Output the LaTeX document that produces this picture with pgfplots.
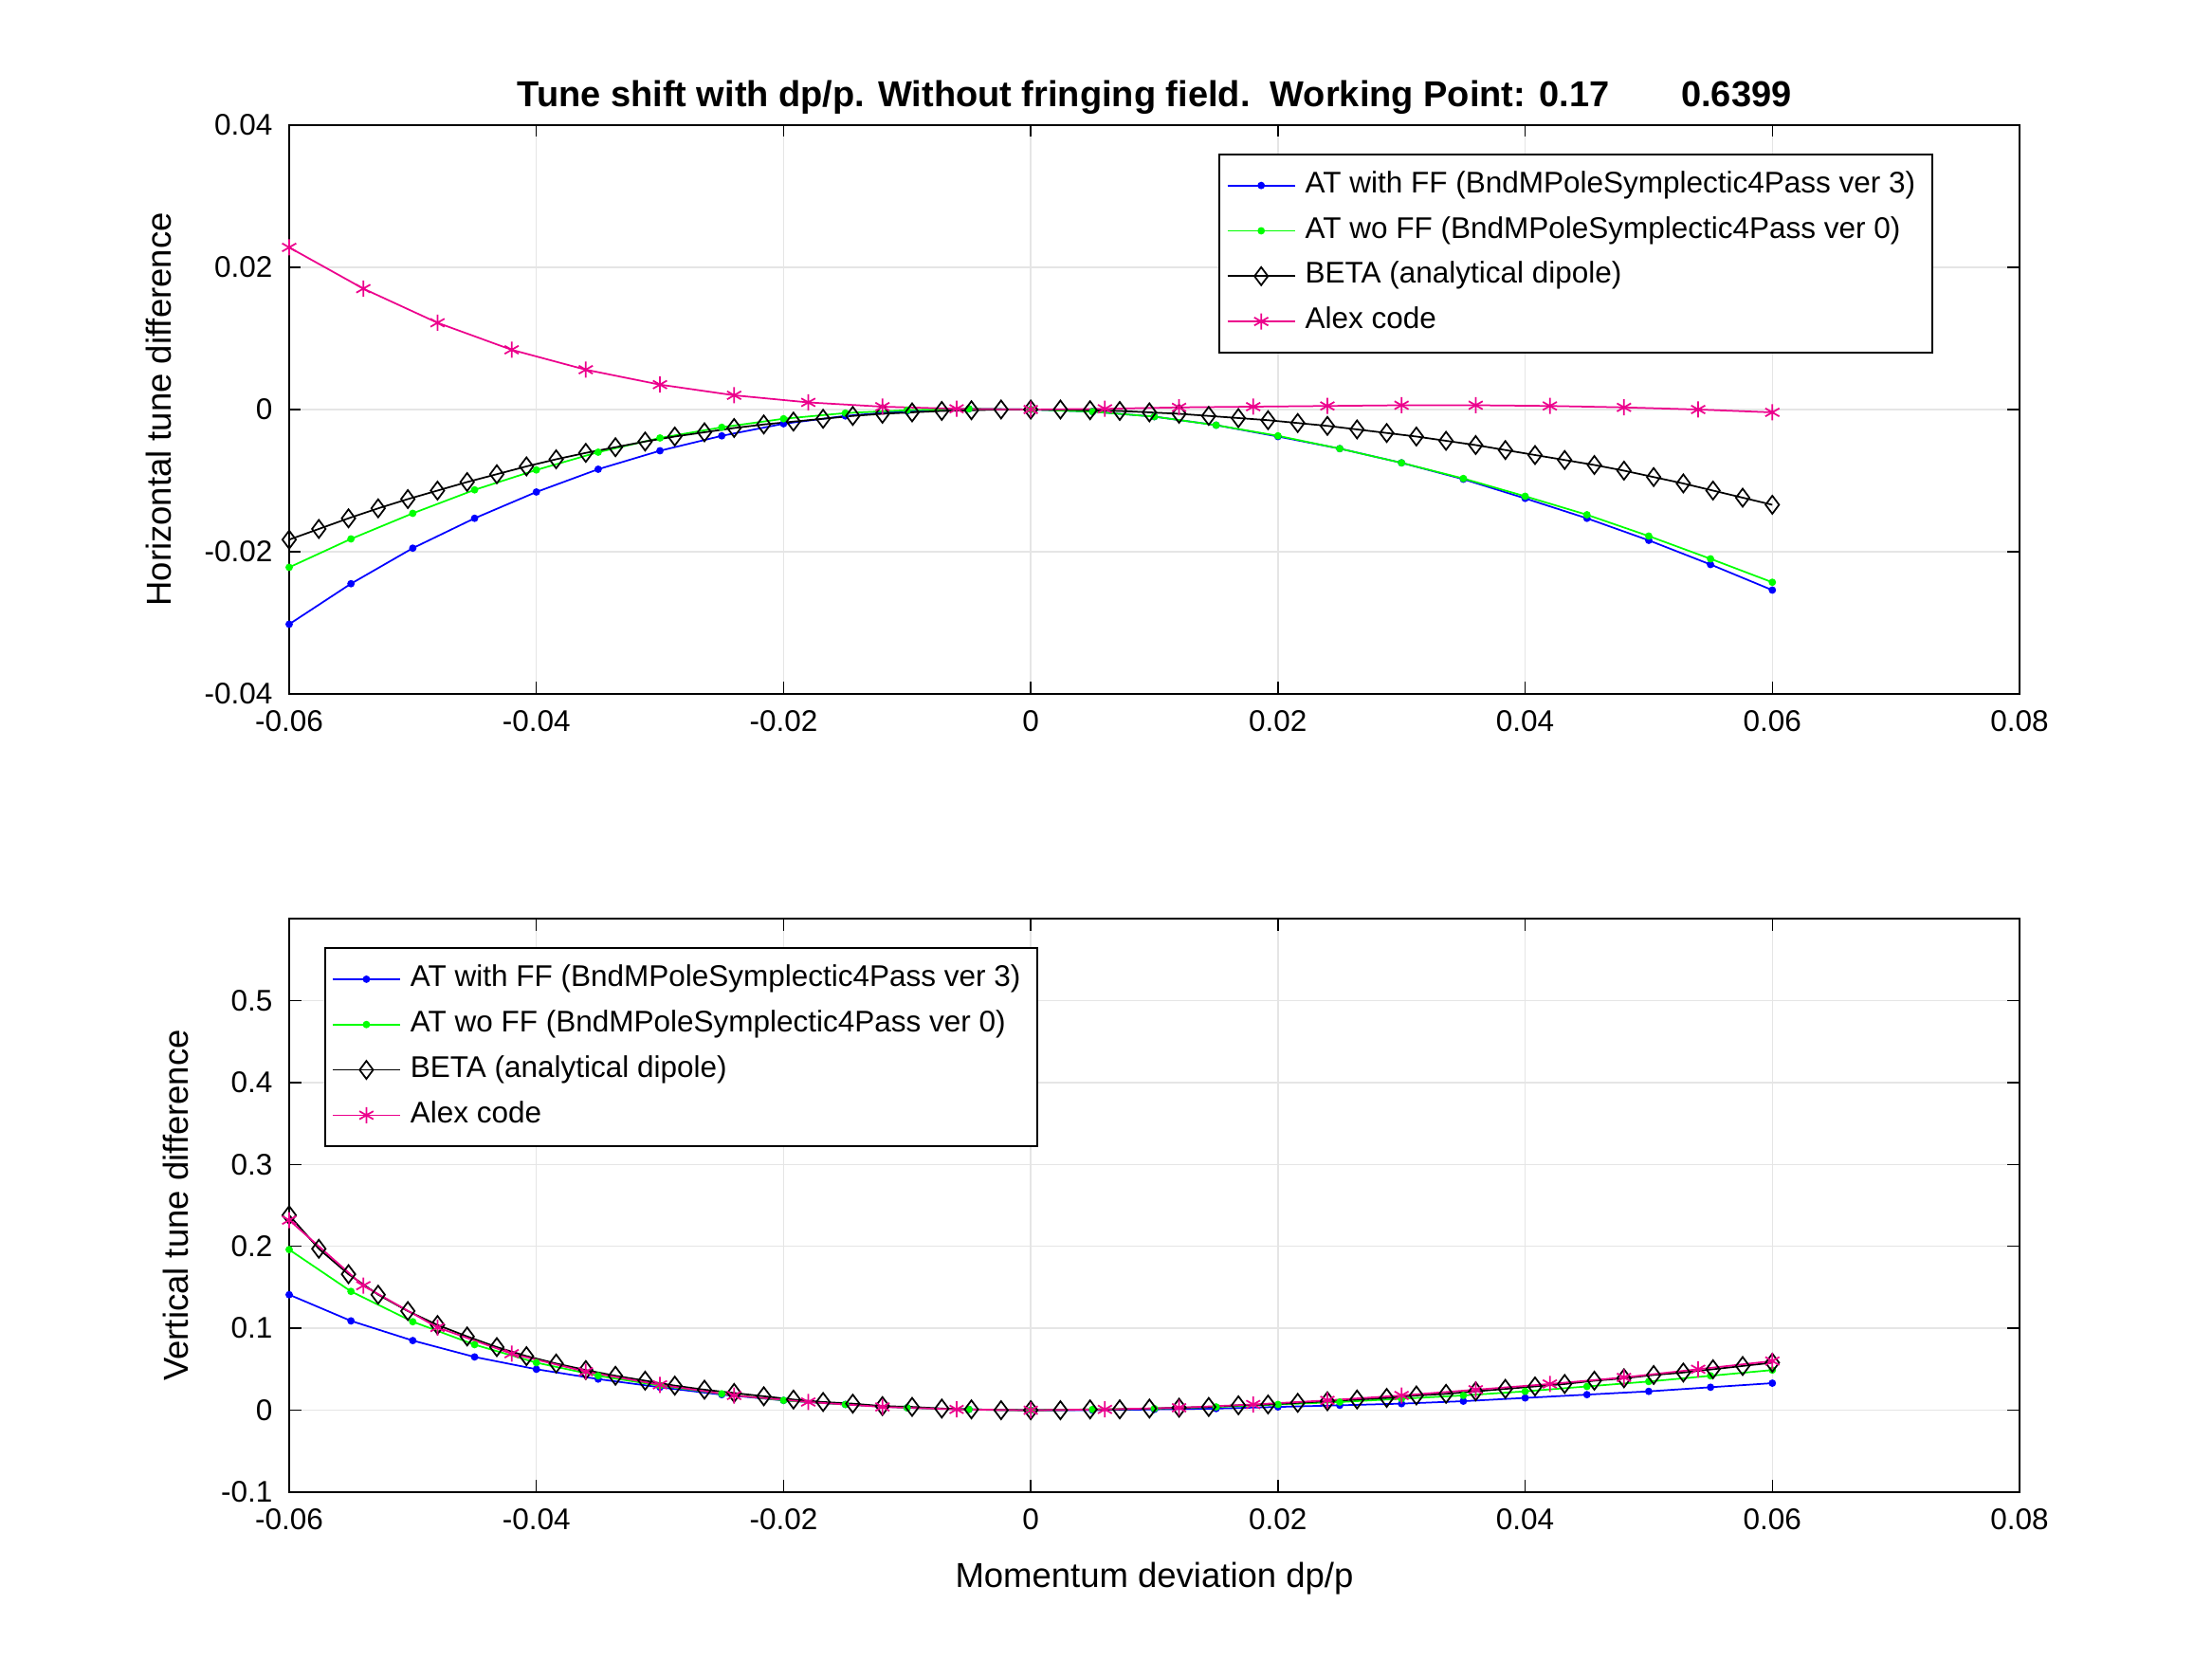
\documentclass[border=0pt]{standalone}
\usepackage{pgfplots}
\pgfplotsset{compat=1.18}
\usepackage{fontspec}
\setmainfont{Liberation Sans}
\definecolor{gr}{rgb}{0,1,0}
\pgfplotsset{
  myax/.style={scale only axis, width=365pt, xmin=-0.06, xmax=0.08,
    xtick={-0.06,-0.04,...,0.081}, tick align=inside, major tick length=2.5pt,
    grid=major, grid style={gray!20, line width=0.3pt},
    axis line style={line width=0.4pt},
    every tick/.style={black, line width=0.3pt},
    tick label style={font=\fontsize{6.3}{7}\selectfont},
    /pgf/number format/assume math mode=true,
    scaled ticks=false,
    xticklabel style={/pgf/number format/fixed, /pgf/number format/precision=2},
    label style={font=\fontsize{7.3}{8}\selectfont},
    legend style={font=\fontsize{6.3}{7.5}\selectfont, draw=black, line width=0.4pt, inner sep=1.5pt, row sep=-0.5pt},
    legend cell align=left,
    legend image code/.code={\draw[##1] (0,0)--(0.5cm,0); \draw[##1, only marks] plot coordinates {(0.25cm,0)};},
  },
  sb/.style={blue, line width=0.35pt, mark=*, mark size=0.6pt},
  sg/.style={gr, line width=0.35pt, mark=*, mark size=0.6pt},
  sk/.style={black, line width=0.35pt, mark=diamond, mark size=1.9pt, mark options={line width=0.35pt}},
  sm/.style={magenta, line width=0.35pt, mark=asterisk, mark size=1.7pt, mark options={line width=0.35pt}},
}
\begin{document}
\begin{tikzpicture}
\path (0,0) rectangle (466.6pt,-350pt);
\node[font=\bfseries\fontsize{7.6}{9}\selectfont, anchor=base] at (243.5pt,-22.5pt) {Tune shift with dp/p. Without fringing field.\ \ Working Point: 0.17\qquad 0.6399};
\begin{axis}[myax, at={(61pt,-26.4pt)}, anchor=north west, height=120pt,
  ymin=-0.04, ymax=0.04, ytick={-0.04,-0.02,...,0.041},
  yticklabel style={/pgf/number format/fixed, /pgf/number format/precision=2},
  ylabel={Horizontal tune difference},
  legend style={at={(0.95,0.95)}, anchor=north east}]
\addplot[sb] coordinates {(-0.06,-0.0302)(-0.055,-0.0245)(-0.05,-0.0195)(-0.045,-0.0153)(-0.04,-0.0116)(-0.035,-0.0084)(-0.03,-0.0058)(-0.025,-0.0037)(-0.02,-0.002)(-0.015,-0.0009)(-0.01,-0.0002)(-0.005,0.0001)(0,0)(0.005,-0.0003)(0.01,-0.001)(0.015,-0.0022)(0.02,-0.0038)(0.025,-0.0055)(0.03,-0.0075)(0.035,-0.0098)(0.04,-0.0125)(0.045,-0.0153)(0.05,-0.0184)(0.055,-0.0218)(0.06,-0.0254)};
\addlegendentry{AT with FF (BndMPoleSymplectic4Pass ver 3)}
\addplot[sg] coordinates {(-0.06,-0.0222)(-0.055,-0.0182)(-0.05,-0.0146)(-0.045,-0.0113)(-0.04,-0.0085)(-0.035,-0.006)(-0.03,-0.004)(-0.025,-0.0025)(-0.02,-0.0013)(-0.015,-0.0005)(-0.01,-0.0001)(-0.005,0.0001)(0,0)(0.005,-0.0003)(0.01,-0.001)(0.015,-0.0022)(0.02,-0.0037)(0.025,-0.0055)(0.03,-0.0075)(0.035,-0.0097)(0.04,-0.0122)(0.045,-0.0148)(0.05,-0.0178)(0.055,-0.021)(0.06,-0.0243)};
\addlegendentry{AT wo FF (BndMPoleSymplectic4Pass ver 0)}
\addplot[sk] coordinates {(-0.06,-0.0183)(-0.0576,-0.0168)(-0.0552,-0.0153)(-0.0528,-0.0139)(-0.0504,-0.0126)(-0.048,-0.0114)(-0.0456,-0.0102)(-0.0432,-0.0091)(-0.0408,-0.0080)(-0.0384,-0.0070)(-0.036,-0.0061)(-0.0336,-0.0053)(-0.0312,-0.0045)(-0.0288,-0.0038)(-0.0264,-0.0032)(-0.024,-0.0026)(-0.0216,-0.0021)(-0.0192,-0.0017)(-0.0168,-0.0013)(-0.0144,-0.0009)(-0.012,-0.0006)(-0.0096,-0.0004)(-0.0072,-0.0002)(-0.0048,-0.0001)(-0.0024,0)(0,0)(0.0024,0)(0.0048,-0.0001)(0.0072,-0.0002)(0.0096,-0.0004)(0.012,-0.0006)(0.0144,-0.0009)(0.0168,-0.0012)(0.0192,-0.0015)(0.0216,-0.0019)(0.024,-0.0023)(0.0264,-0.0028)(0.0288,-0.0033)(0.0312,-0.0038)(0.0336,-0.0044)(0.036,-0.0050)(0.0384,-0.0057)(0.0408,-0.0064)(0.0432,-0.0071)(0.0456,-0.0078)(0.048,-0.0086)(0.0504,-0.0095)(0.0528,-0.0104)(0.0552,-0.0114)(0.0576,-0.0124)(0.06,-0.0134)};
\addlegendentry{BETA (analytical dipole)}
\addplot[sm] coordinates {(-0.06,0.0228)(-0.054,0.0170)(-0.048,0.0122)(-0.042,0.0084)(-0.036,0.0056)(-0.03,0.0035)(-0.024,0.0020)(-0.018,0.0010)(-0.012,0.0004)(-0.006,0.0001)(0,0)(0.006,0.0001)(0.012,0.0003)(0.018,0.0004)(0.024,0.0005)(0.03,0.0006)(0.036,0.0006)(0.042,0.0005)(0.048,0.0003)(0.054,0)(0.06,-0.0004)};
\addlegendentry{Alex code}
\end{axis}
\begin{axis}[myax, at={(61pt,-193.8pt)}, anchor=north west, height=121pt,
  ymin=-0.1, ymax=0.6, ytick={-0.1,0,0.1,0.2,0.3,0.4,0.5},
  yticklabel style={/pgf/number format/fixed, /pgf/number format/precision=1},
  ylabel={Vertical tune difference}, xlabel={Momentum deviation dp/p},
  legend style={at={(0.02,0.95)}, anchor=north west}]
\addplot[sb] coordinates {(-0.06,0.141)(-0.055,0.109)(-0.05,0.085)(-0.045,0.065)(-0.04,0.050)(-0.035,0.038)(-0.03,0.028)(-0.025,0.019)(-0.02,0.012)(-0.015,0.007)(-0.01,0.003)(-0.005,0.001)(0,0)(0.005,0)(0.01,0.001)(0.015,0.002)(0.02,0.004)(0.025,0.006)(0.03,0.008)(0.035,0.011)(0.04,0.015)(0.045,0.019)(0.05,0.023)(0.055,0.028)(0.06,0.033)};
\addlegendentry{AT with FF (BndMPoleSymplectic4Pass ver 3)}
\addplot[sg] coordinates {(-0.06,0.196)(-0.055,0.145)(-0.05,0.108)(-0.045,0.080)(-0.04,0.058)(-0.035,0.042)(-0.03,0.030)(-0.025,0.020)(-0.02,0.012)(-0.015,0.007)(-0.01,0.003)(-0.005,0.001)(0,0)(0.005,0.001)(0.01,0.002)(0.015,0.004)(0.02,0.007)(0.025,0.010)(0.03,0.014)(0.035,0.018)(0.04,0.023)(0.045,0.029)(0.05,0.035)(0.055,0.042)(0.06,0.049)};
\addlegendentry{AT wo FF (BndMPoleSymplectic4Pass ver 0)}
\addplot[sk] coordinates {(-0.06,0.238)(-0.0576,0.197)(-0.0552,0.166)(-0.0528,0.141)(-0.0504,0.121)(-0.048,0.104)(-0.0456,0.090)(-0.0432,0.077)(-0.0408,0.066)(-0.0384,0.057)(-0.036,0.049)(-0.0336,0.042)(-0.0312,0.036)(-0.0288,0.030)(-0.0264,0.025)(-0.024,0.021)(-0.0216,0.017)(-0.0192,0.013)(-0.0168,0.010)(-0.0144,0.008)(-0.012,0.005)(-0.0096,0.004)(-0.0072,0.002)(-0.0048,0.001)(-0.0024,0)(0,0)(0.0024,0)(0.0048,0.001)(0.0072,0.001)(0.0096,0.002)(0.012,0.003)(0.0144,0.004)(0.0168,0.006)(0.0192,0.007)(0.0216,0.009)(0.024,0.011)(0.0264,0.013)(0.0288,0.015)(0.0312,0.018)(0.0336,0.020)(0.036,0.023)(0.0384,0.026)(0.0408,0.029)(0.0432,0.032)(0.0456,0.036)(0.048,0.039)(0.0504,0.043)(0.0528,0.046)(0.0552,0.050)(0.0576,0.054)(0.06,0.058)};
\addlegendentry{BETA (analytical dipole)}
\addplot[sm] coordinates {(-0.06,0.232)(-0.054,0.152)(-0.048,0.101)(-0.042,0.069)(-0.036,0.047)(-0.03,0.031)(-0.024,0.018)(-0.018,0.010)(-0.012,0.004)(-0.006,0.001)(0,0)(0.006,0.001)(0.012,0.003)(0.018,0.007)(0.024,0.012)(0.03,0.018)(0.036,0.025)(0.042,0.032)(0.048,0.040)(0.054,0.050)(0.06,0.060)};
\addlegendentry{Alex code}
\end{axis}
\end{tikzpicture}
\end{document}
